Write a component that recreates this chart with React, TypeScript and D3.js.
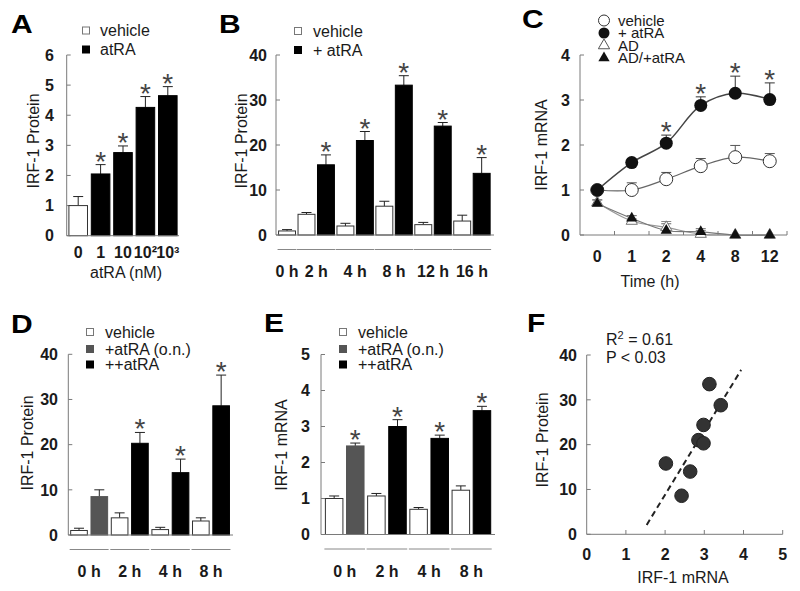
import React from "react";
import * as d3 from "d3";

const FONT = "'Liberation Sans', Arial, Helvetica, sans-serif";
const INK = "#1a1a1a";
const AXIS = "#7a7a7a";
const GRAYBAR = "#555555";

// ---------- Panel A ----------
const aCategories = ["0", "1", "10", "10²", "10³"];
const aKinds = ["vehicle", "atRA", "atRA", "atRA", "atRA"];
const aValues = [1.0, 2.05, 2.76, 4.26, 4.65];
const aErrors = [1.3, 2.36, 2.98, 4.62, 4.95];
const aStars = [false, true, true, true, true];
const aTicks = [0, 1, 2, 3, 4, 5, 6];

// ---------- Panel B ----------
const bTimes = ["0 h", "2 h", "4 h", "8 h", "12 h", "16 h"];
const bVehicle = [0.9, 4.6, 2.0, 6.4, 2.3, 3.1];
const bVehicleErr = [1.2, 5.0, 2.6, 7.5, 2.8, 4.4];
const bAtra: (number | null)[] = [null, 15.6, 21.0, 33.3, 24.2, 13.7];
const bAtraErr: (number | null)[] = [null, 17.8, 23.0, 35.4, 25.0, 17.2];
const bKinds = ["atRA", "atRA", "atRA", "atRA", "atRA", "atRA"];
const bStars = [false, true, true, true, true, true];
const bTicks = [0, 10, 20, 30, 40];

// ---------- Panel C ----------
const cTimes = ["0", "1", "2", "4", "8", "12"];
const cVehicle = [1.0, 1.0, 1.24, 1.53, 1.73, 1.64];
const cVehicleErr: (number | null)[] = [null, 1.16, 1.39, 1.7, 1.99, 1.81];
const cAtra = [1.0, 1.61, 2.04, 2.88, 3.15, 3.01];
const cAtraErr: (number | null)[] = [null, null, 2.22, 3.07, 3.53, 3.38];
const cAtraStars = [false, false, true, true, true, true];
const cAD = [0.72, 0.31, 0.17, 0.02, 0, 0];
const cADErr: (number | null)[] = [0.78, 0.36, 0.3, 0.1, null, null];
const cADAtra = [0.7, 0.37, 0.1, 0.07, 0, 0];
const cADAtraErr: (number | null)[] = [0.78, 0.43, 0.25, 0.14, null, null];
const cLegend = ["vehicle", "+ atRA", "AD", "AD/+atRA"];
const cTicks = [0, 1, 2, 3, 4];

// ---------- Panel D ----------
const dTimes = ["0 h", "2 h", "4 h", "8 h"];
const dVehicle = [1.0, 3.8, 1.2, 3.1];
const dVehicleErr = [1.5, 4.9, 1.7, 3.8];
const dTreated: (number | null)[] = [8.5, 20.3, 13.8, 28.6];
const dTreatedErr: (number | null)[] = [10.0, 22.7, 16.8, 35.4];
const dKinds = ["on", "pp", "pp", "pp"];
const dStars = [false, true, true, true];
const dTicks = [0, 10, 20, 30, 40];

// ---------- Panel E ----------
const eTimes = ["0 h", "2 h", "4 h", "8 h"];
const eVehicle = [1.0, 1.07, 0.7, 1.23];
const eVehicleErr = [1.07, 1.14, 0.75, 1.35];
const eTreated: (number | null)[] = [2.46, 3.0, 2.67, 3.44];
const eTreatedErr: (number | null)[] = [2.54, 3.19, 2.76, 3.56];
const eKinds = ["on", "pp", "pp", "pp"];
const eStars = [true, true, true, true];
const eTicks = [0, 1, 2, 3, 4, 5];

// ---------- Panel F ----------
const fMrna = [2.02, 2.85, 3.13, 2.98, 2.42, 2.98, 2.64, 3.42];
const fProtein = [15.8, 21.0, 33.5, 24.4, 8.6, 20.3, 14.0, 28.8];
const fFitRange = [1.53, 3.94];
const fSlope = 14.35;
const fIntercept = -19.86;
const fXTicks = [0, 1, 2, 3, 4, 5];
const fYTicks = [0, 10, 20, 30, 40];

const FILLS: Record<string, string> = { vehicle: "#ffffff", atRA: "#000000", on: GRAYBAR, pp: "#000000" };

type BarDatum = { slot: number; kind: string; value: number; err: number; star: boolean };
type Group = { label: string; slots: number[] };

function buildGrouped(
  labels: string[], veh: number[], vehErr: number[],
  trt: (number | null)[], trtErr: (number | null)[], kinds: string[], stars: boolean[]
) {
  const bars: BarDatum[] = [];
  const groups: Group[] = [];
  let slot = 0;
  veh.forEach((v, i) => {
    const slots = [slot];
    bars.push({ slot, kind: "vehicle", value: v, err: vehErr[i], star: false });
    slot++;
    if (trt[i] != null) {
      bars.push({ slot, kind: kinds[i], value: trt[i] as number, err: trtErr[i] as number, star: stars[i] });
      slots.push(slot);
      slot++;
    }
    groups.push({ label: labels[i], slots });
  });
  return { bars, groups, n: slot };
}

function Star({ x, y }: { x: number; y: number }) {
  return (
    <text x={x} y={y + 8} textAnchor="middle" fontSize={28} fill="#444" fontFamily={FONT}>
      *
    </text>
  );
}

function YAxis({ x, y, ticks, labelX }: { x: number; y: d3.ScaleLinear<number, number>; ticks: number[]; labelX: number }) {
  return (
    <g>
      <line x1={x} x2={x} y1={y(ticks[0])} y2={y(ticks[ticks.length - 1])} stroke={AXIS} strokeWidth={1} />
      {ticks.map((t) => (
        <g key={t}>
          <line x1={x} x2={x + 4} y1={y(t)} y2={y(t)} stroke={AXIS} />
          <text x={labelX} y={y(t)} dy="0.36em" textAnchor="end" fontSize={16} fontWeight="bold" fill={INK}>
            {t}
          </text>
        </g>
      ))}
    </g>
  );
}

function YTitle({ x, y, text }: { x: number; y: number; text: string }) {
  return (
    <text transform={`translate(${x},${y}) rotate(-90)`} textAnchor="middle" fontSize={16} fill={INK}>
      {text}
    </text>
  );
}

function PanelLetter({ x, y, text }: { x: number; y: number; text: string }) {
  return (
    <text transform={`translate(${x},${y}) scale(1.2,1)`} fontSize={25} fontWeight="bold" fill="#000">
      {text}
    </text>
  );
}

function SquareLegend({ x, tx, rows, items }: { x: number; tx: number; rows: number[]; items: { label: string; kind: string }[] }) {
  return (
    <g>
      {items.map((it, i) => (
        <g key={i}>
          <rect x={x - 3.5} y={rows[i] - 3.5} width={7} height={7} fill={FILLS[it.kind]} stroke={it.kind === "vehicle" ? "#777" : FILLS[it.kind]} strokeWidth={1} />
          <text x={tx} y={rows[i]} dy="0.36em" fontSize={16} fill={INK}>
            {it.label}
          </text>
        </g>
      ))}
    </g>
  );
}

function BarPanel(p: {
  bars: BarDatum[]; nSlots: number; band: [number, number]; pad: number;
  axisX: number; axisRight: number; y0: number; yTop: number; yMax: number; ticks: number[];
  tickLabelX: number; groups?: Group[]; catLabels?: string[]; catLabelY?: number;
}) {
  const y = d3.scaleLinear().domain([0, p.yMax]).range([p.y0, p.yTop]);
  const x = d3.scaleBand<number>().domain(d3.range(p.nSlots)).range(p.band).paddingInner(p.pad).paddingOuter(p.pad / 2);
  const bw = x.bandwidth();
  return (
    <g>
      <YAxis x={p.axisX} y={y} ticks={p.ticks} labelX={p.tickLabelX} />
      {p.bars.map((b, i) => {
        const bx = x(b.slot)!;
        const cx = bx + bw / 2;
        return (
          <g key={i}>
            <line x1={cx} x2={cx} y1={y(b.value)} y2={y(b.err)} stroke="#222" strokeWidth={1} />
            <line x1={cx - 5} x2={cx + 5} y1={y(b.err)} y2={y(b.err)} stroke="#222" strokeWidth={1} />
            <rect x={bx} y={y(b.value)} width={bw} height={p.y0 - y(b.value)} fill={FILLS[b.kind]} stroke={b.kind === "vehicle" ? "#333" : FILLS[b.kind]} strokeWidth={1} />
            {b.star && <Star x={cx} y={y(b.err) - 2} />}
          </g>
        );
      })}
      <line x1={p.axisX} x2={p.axisRight} y1={p.y0} y2={p.y0} stroke={AXIS} strokeWidth={1} />
      {p.catLabels &&
        p.catLabels.map((c, i) => (
          <text key={c} x={x(i)! + bw / 2} y={p.catLabelY} textAnchor="middle" fontSize={16} fontWeight="bold" fill={INK}>
            {c}
          </text>
        ))}
      {p.groups &&
        p.groups.map((g) => {
          const x1 = x(g.slots[0])! - 1;
          const x2 = x(g.slots[g.slots.length - 1])! + bw + 1;
          return (
            <g key={g.label}>
              <line x1={x1} x2={x2} y1={p.y0 + 14.5} y2={p.y0 + 14.5} stroke="#888" strokeWidth={1} />
              <text x={(x1 + x2) / 2} y={p.y0 + 42} textAnchor="middle" fontSize={16} fontWeight="bold" fill={INK}>
                {g.label}
              </text>
            </g>
          );
        })}
    </g>
  );
}

function PanelA() {
  const bars: BarDatum[] = aValues.map((v, i) => ({ slot: i, kind: aKinds[i], value: v, err: aErrors[i], star: aStars[i] }));
  return (
    <g>
      <PanelLetter x={11} y={33} text="A" />
      <SquareLegend x={86} tx={100} rows={[30.5, 49.5]} items={[{ label: "vehicle", kind: "vehicle" }, { label: "atRA", kind: "atRA" }]} />
      <BarPanel bars={bars} nSlots={5} band={[67, 179]} pad={0.17} axisX={66.7} axisRight={179} y0={235.7} yTop={55} yMax={6} ticks={aTicks} tickLabelX={54} catLabels={aCategories} catLabelY={258} />
      <YTitle x={39} y={141} text="IRF-1 Protein" />
      <text x={126} y={278} textAnchor="middle" fontSize={16} fill={INK}>atRA (nM)</text>
    </g>
  );
}

function PanelB() {
  const g = buildGrouped(bTimes, bVehicle, bVehicleErr, bAtra, bAtraErr, bKinds, bStars);
  return (
    <g>
      <PanelLetter x={219} y={33} text="B" />
      <SquareLegend x={298} tx={313} rows={[31, 50]} items={[{ label: "vehicle", kind: "vehicle" }, { label: "+ atRA", kind: "atRA" }]} />
      <BarPanel bars={g.bars} nSlots={g.n} band={[277.3, 491.4]} pad={0.13} axisX={276} axisRight={494} y0={235} yTop={55} yMax={40} ticks={bTicks} tickLabelX={267} groups={g.groups} />
      <YTitle x={247} y={141} text="IRF-1 Protein" />
    </g>
  );
}

function PanelC() {
  const x = d3.scaleBand<string>().domain(cTimes).range([580, 787]);
  const cx = (i: number) => x(cTimes[i])! + x.bandwidth() / 2;
  const y = d3.scaleLinear().domain([0, 4]).range([235, 55]);
  const line = d3.line<number>().x((_, i) => cx(i)).y((d) => y(d)).curve(d3.curveCatmullRom.alpha(0.5));
  const tri = d3.symbol().type(d3.symbolTriangle).size(55)()!;
  const errs = (vals: number[], e: (number | null)[], color: string) =>
    vals.map((v, i) =>
      e[i] == null ? null : (
        <g key={i}>
          <line x1={cx(i)} x2={cx(i)} y1={y(v)} y2={y(e[i] as number)} stroke={color} />
          <line x1={cx(i) - 5} x2={cx(i) + 5} y1={y(e[i] as number)} y2={y(e[i] as number)} stroke={color} />
        </g>
      )
    );
  const boundaries = d3.range(1, cTimes.length + 1).map((k) => 580 + x.step() * k);
  const legendRows = [20.5, 33, 45.5, 58];
  return (
    <g>
      <PanelLetter x={522} y={28} text="C" />
      {/* legend */}
      <circle cx={604} cy={legendRows[0]} r={5.5} fill="#fff" stroke="#333" />
      <circle cx={604} cy={legendRows[1]} r={5.5} fill="#111" />
      <path d={tri} transform={`translate(604,${legendRows[2]})`} fill="#fff" stroke="#555" />
      <path d={tri} transform={`translate(604,${legendRows[3]})`} fill="#111" />
      {cLegend.map((t, i) => (
        <text key={t} x={618} y={legendRows[i]} dy="0.36em" fontSize={15} fill={INK}>
          {t}
        </text>
      ))}
      <YAxis x={580} y={y} ticks={cTicks} labelX={570} />
      <line x1={580} x2={787} y1={235} y2={235} stroke={AXIS} />
      {boundaries.map((b) => (
        <line key={b} x1={b} x2={b} y1={235} y2={231} stroke={AXIS} />
      ))}
      {cTimes.map((t, i) => (
        <text key={t} x={cx(i)} y={262} textAnchor="middle" fontSize={16} fontWeight="bold" fill={INK}>
          {t}
        </text>
      ))}
      <text x={650} y={287} textAnchor="middle" fontSize={16} fill={INK}>Time (h)</text>
      <YTitle x={547} y={145} text="IRF-1 mRNA" />
      {/* AD series */}
      {errs(cAD, cADErr, "#888")}
      {errs(cADAtra, cADAtraErr, "#666")}
      <path d={line(cAD)!} fill="none" stroke="#999" strokeWidth={1.2} />
      <path d={line(cADAtra)!} fill="none" stroke="#777" strokeWidth={1.2} />
      {cAD.map((v, i) => (
        <path key={i} d={tri} transform={`translate(${cx(i)},${y(v)})`} fill="#fff" stroke="#777" />
      ))}
      {cADAtra.map((v, i) => (
        <path key={i} d={tri} transform={`translate(${cx(i)},${y(v)})`} fill="#111" />
      ))}
      {/* vehicle & atRA */}
      {errs(cVehicle, cVehicleErr, "#555")}
      {errs(cAtra, cAtraErr, "#333")}
      <path d={line(cVehicle)!} fill="none" stroke="#666" strokeWidth={1.2} />
      <path d={line(cAtra)!} fill="none" stroke="#444" strokeWidth={1.5} />
      {cVehicle.map((v, i) => (
        <circle key={i} cx={cx(i)} cy={y(v)} r={6.5} fill="#fff" stroke="#333" strokeWidth={1} />
      ))}
      {cAtra.map((v, i) => (
        <circle key={i} cx={cx(i)} cy={y(v)} r={6.5} fill="#111" />
      ))}
      {cAtra.map((v, i) =>
        cAtraStars[i] ? <Star key={i} x={cx(i)} y={y((cAtraErr[i] as number) ?? v) - 2} /> : null
      )}
    </g>
  );
}

function PanelD() {
  const g = buildGrouped(dTimes, dVehicle, dVehicleErr, dTreated, dTreatedErr, dKinds, dStars);
  return (
    <g>
      <PanelLetter x={11} y={333} text="D" />
      <SquareLegend x={90} tx={105} rows={[332, 349, 364.5]} items={[{ label: "vehicle", kind: "vehicle" }, { label: "+atRA (o.n.)", kind: "on" }, { label: "++atRA", kind: "pp" }]} />
      <BarPanel bars={g.bars} nSlots={g.n} band={[68.85, 231.3]} pad={0.18} axisX={68.3} axisRight={233} y0={535} yTop={354.3} yMax={40} ticks={dTicks} tickLabelX={58} groups={g.groups} />
      <YTitle x={33} y={443} text="IRF-1 Protein" />
    </g>
  );
}

function PanelE() {
  const g = buildGrouped(eTimes, eVehicle, eVehicleErr, eTreated, eTreatedErr, eKinds, eStars);
  return (
    <g>
      <PanelLetter x={264} y={332} text="E" />
      <SquareLegend x={343} tx={358} rows={[332, 349, 364.5]} items={[{ label: "vehicle", kind: "vehicle" }, { label: "+atRA (o.n.)", kind: "on" }, { label: "++atRA", kind: "pp" }]} />
      <BarPanel bars={g.bars} nSlots={g.n} band={[323.6, 492.5]} pad={0.17} axisX={321} axisRight={495} y0={534.5} yTop={354.5} yMax={5} ticks={eTicks} tickLabelX={310} groups={g.groups} />
      <YTitle x={287} y={445} text="IRF-1 mRNA" />
    </g>
  );
}

function PanelF() {
  const x = d3.scaleLinear().domain([0, 5]).range([586.7, 782.7]);
  const y = d3.scaleLinear().domain([0, 40]).range([534.3, 355]);
  const fit = (v: number) => fSlope * v + fIntercept;
  return (
    <g>
      <PanelLetter x={527} y={332} text="F" />
      <text x={606} y={345} fontSize={16} fill={INK}>
        R<tspan fontSize={11} dy={-6}>2</tspan>
        <tspan dy={6}> = 0.61</tspan>
      </text>
      <text x={606} y={363} fontSize={16} fill={INK}>P &lt; 0.03</text>
      <YAxis x={586.7} y={y} ticks={fYTicks} labelX={577} />
      <line x1={586.7} x2={782.7} y1={534.3} y2={534.3} stroke={AXIS} />
      {fXTicks.map((t) => (
        <g key={t}>
          {t > 0 && <line x1={x(t)} x2={x(t)} y1={534.3} y2={530} stroke={AXIS} />}
          <text x={x(t)} y={560} textAnchor="middle" fontSize={16} fontWeight="bold" fill={INK}>
            {t}
          </text>
        </g>
      ))}
      <text x={683} y={583} textAnchor="middle" fontSize={16} fill={INK}>IRF-1 mRNA</text>
      <YTitle x={548} y={440} text="IRF-1 Protein" />
      <line x1={x(fFitRange[0])} y1={y(fit(fFitRange[0]))} x2={x(fFitRange[1])} y2={y(fit(fFitRange[1]))} stroke="#222" strokeWidth={2} strokeDasharray="6,4" />
      {fMrna.map((m, i) => (
        <circle key={i} cx={x(m)} cy={y(fProtein[i])} r={6.8} fill="#333" stroke="#222" />
      ))}
    </g>
  );
}

export default function App() {
  return (
    <svg width={800} height={591} style={{ position: "absolute", left: 0, top: 0 }} fontFamily={FONT}>
      <rect width={800} height={591} fill="#fff" />
      <PanelA />
      <PanelB />
      <PanelC />
      <PanelD />
      <PanelE />
      <PanelF />
    </svg>
  );
}
